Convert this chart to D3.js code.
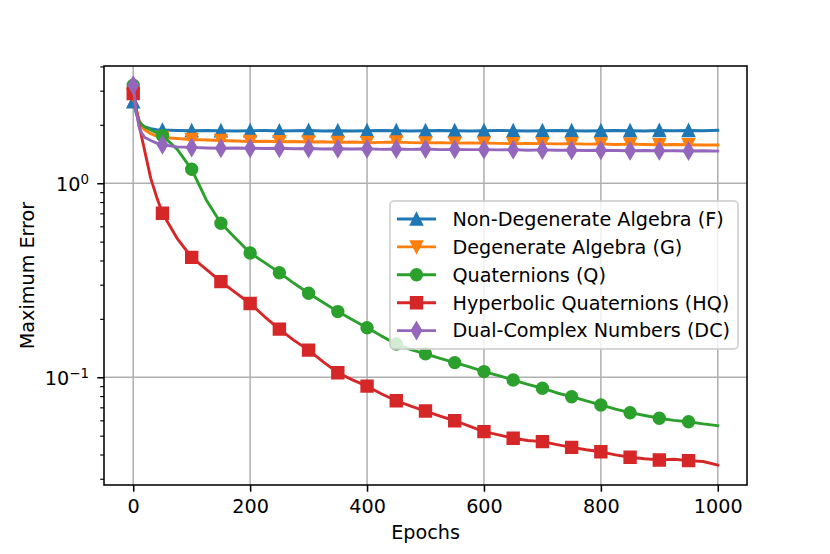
<!DOCTYPE html>
<html><head><meta charset="utf-8">
<script src="https://cdn.jsdelivr.net/npm/d3@7"></script>
<style>
body{margin:0;background:#fff}
text{font-family:"DejaVu Sans",sans-serif;fill:#000}
</style>
</head><body>
<svg id="chart" width="830" height="554"></svg>
<script>
// ---------- data ----------
const epochs = [0,5,10,15,20,30,40,50,75,100,125,150,175,200,225,250,275,300,325,350,375,400,425,450,475,500,525,550,575,600,625,650,675,700,725,750,775,800,825,850,875,900,925,950,975,1000];
const seriesNames = ["Non-Degenerate Algebra (F)","Degenerate Algebra (G)","Quaternions (Q)","Hyperbolic Quaternions (HQ)","Dual-Complex Numbers (DC)"];
const valuesF = [2.63,2.3,2.1,2.0,1.95,1.91,1.89,1.88,1.87,1.865,1.87,1.865,1.86,1.865,1.87,1.86,1.865,1.87,1.86,1.865,1.86,1.865,1.87,1.865,1.86,1.865,1.87,1.865,1.86,1.865,1.87,1.865,1.86,1.865,1.87,1.865,1.86,1.865,1.87,1.865,1.86,1.87,1.865,1.87,1.865,1.875];
const valuesG = [2.85,2.4,2.1,1.95,1.88,1.8,1.75,1.72,1.70,1.68,1.67,1.66,1.65,1.64,1.645,1.635,1.64,1.63,1.635,1.625,1.63,1.62,1.625,1.63,1.62,1.615,1.62,1.61,1.615,1.61,1.605,1.60,1.605,1.60,1.595,1.60,1.59,1.595,1.585,1.59,1.585,1.58,1.585,1.58,1.575,1.575];
const valuesQ = [3.2,2.4,2.07,2.0,1.95,1.88,1.82,1.76,1.5,1.18,0.82,0.622,0.52,0.437,0.39,0.346,0.305,0.271,0.243,0.218,0.198,0.180,0.163,0.1485,0.139,0.132,0.125,0.119,0.113,0.107,0.102,0.0968,0.092,0.0878,0.083,0.0794,0.0755,0.072,0.0685,0.0657,0.0635,0.0615,0.060,0.059,0.0575,0.0563];
const valuesHQ = [2.9,2.45,2.0,1.7,1.45,1.06,0.85,0.70,0.52,0.415,0.36,0.311,0.273,0.240,0.205,0.177,0.155,0.138,0.12,0.1056,0.097,0.090,0.082,0.0757,0.071,0.067,0.063,0.0597,0.056,0.0525,0.0505,0.0485,0.0472,0.0466,0.045,0.0435,0.0423,0.0413,0.0398,0.0387,0.038,0.0375,0.0378,0.0372,0.0368,0.0353];
const valuesDC = [3.2,2.35,1.95,1.8,1.72,1.66,1.61,1.58,1.54,1.53,1.52,1.515,1.52,1.515,1.51,1.515,1.505,1.51,1.50,1.505,1.50,1.505,1.495,1.50,1.495,1.50,1.49,1.495,1.49,1.49,1.485,1.49,1.48,1.485,1.48,1.48,1.475,1.48,1.475,1.47,1.475,1.47,1.47,1.465,1.47,1.465];
const markerEpochs = [0,50,100,150,200,250,300,350,400,450,500,550,600,650,700,750,800,850,900,950];
const xTicks = [0,200,400,600,800,1000];
const yMajorTicks = [0.1,1];
const yMajorLabels = [["10","\u22121"],["10","0"]];
const yMinorTicks = [0.03,0.04,0.05,0.06,0.07,0.08,0.09,0.2,0.3,0.4,0.5,0.6,0.7,0.8,0.9,2,3,4];
const xLabel = "Epochs";
const yLabel = "Maximum Error";

// ---------- layout ----------
const L=104, R=747, T=66, B=485;
const colors = ["#1f77b4","#ff7f0e","#2ca02c","#d62728","#9467bd"];
const shapes = ["triUp","triDown","circle","square","thinDiamond"];
const allValues = [valuesF,valuesG,valuesQ,valuesHQ,valuesDC];
const series = seriesNames.map((n,i)=>({name:n,color:colors[i],shape:shapes[i],
  pts:epochs.map((e,j)=>({e:e,v:allValues[i][j]}))}));

const svg = d3.select("#chart");
const x = d3.scaleLinear().domain([-50,1050]).range([L,R]);
const y = d3.scaleLog().domain([0.02785,4.02]).range([B,T]);

const MS = 11.5;
function markerPath(shape){
  const h = MS/2;
  if(shape==="triUp") return `M0,${-h}L${-h},${h}L${h},${h}Z`;
  if(shape==="triDown") return `M0,${h}L${-h},${-h}L${h},${-h}Z`;
  if(shape==="square") return `M${-h},${-h}H${h}V${h}H${-h}Z`;
  if(shape==="thinDiamond"){const dv=MS*Math.SQRT1_2, dh=0.6*dv; return `M0,${-dv}L${dh},0L0,${dv}L${-dh},0Z`;}
  const r=h; return `M${r},0A${r},${r},0,1,1,${-r},0A${r},${r},0,1,1,${r},0Z`;
}

// clip
svg.append("defs").append("clipPath").attr("id","clip")
  .append("rect").attr("x",L).attr("y",T).attr("width",R-L).attr("height",B-T);

// grid
const grid = svg.append("g").attr("stroke","#b0b0b0").attr("stroke-width",1.54);
grid.selectAll("line.gx").data(xTicks).join("line")
  .attr("x1",d=>x(d)).attr("x2",d=>x(d)).attr("y1",T).attr("y2",B);
grid.selectAll("line.gy").data(yMajorTicks).join("line")
  .attr("y1",d=>y(d)).attr("y2",d=>y(d)).attr("x1",L).attr("x2",R);

// axes (ticks)
const xAxis = svg.append("g").attr("transform",`translate(0,${B})`)
  .call(d3.axisBottom(x).tickValues(xTicks).tickSize(6.7).tickPadding(6).tickFormat(d3.format("d")));
xAxis.select(".domain").remove();
xAxis.selectAll(".tick line").attr("stroke-width",1.54);
xAxis.selectAll(".tick text").attr("font-size",19.2).attr("dy",null).attr("y",28).attr("fill","#000");

const yAxis = svg.append("g").attr("transform",`translate(${L},0)`)
  .call(d3.axisLeft(y).tickValues(yMajorTicks).tickSize(6.7).tickFormat(""));
yAxis.select(".domain").remove();
yAxis.selectAll(".tick line").attr("stroke-width",1.54);
yAxis.selectAll(".tick").each(function(d,i){
  const t = d3.select(this).append("text").attr("x",-15).attr("y",7.2)
    .attr("text-anchor","end").attr("font-size",19.2).attr("fill","#000");
  t.append("tspan").text(yMajorLabels[i][0]);
  t.append("tspan").attr("dy",-7.4).attr("font-size",13.4).text(yMajorLabels[i][1]);
});
const yMinor = svg.append("g").attr("transform",`translate(${L},0)`)
  .call(d3.axisLeft(y).tickValues(yMinorTicks).tickSize(3.8).tickFormat(""));
yMinor.select(".domain").remove();
yMinor.selectAll(".tick line").attr("stroke-width",1.15);

// lines + markers
const line = d3.line().x(d=>x(d.e)).y(d=>y(d.v));
const plot = svg.append("g").attr("clip-path","url(#clip)");
series.forEach(s=>{
  const g = plot.append("g");
  g.append("path").datum(s.pts).attr("d",line).attr("fill","none")
    .attr("stroke",s.color).attr("stroke-width",2.9).attr("stroke-linejoin","round").attr("stroke-linecap","square");
  g.selectAll("path.m").data(s.pts.filter(p=>markerEpochs.includes(p.e))).join("path")
    .attr("class","m").attr("d",markerPath(s.shape))
    .attr("transform",d=>`translate(${x(d.e)},${y(d.v)})`)
    .attr("fill",s.color).attr("stroke",s.color).attr("stroke-width",1.9);
});

// spines
svg.append("rect").attr("x",L).attr("y",T).attr("width",R-L).attr("height",B-T)
  .attr("fill","none").attr("stroke","#000").attr("stroke-width",1.54);

// axis labels
svg.append("text").attr("x",(L+R)/2).attr("y",539).attr("text-anchor","middle")
  .attr("font-size",19.2).text(xLabel);
svg.append("text").attr("transform",`translate(34,${(T+B)/2}) rotate(-90)`)
  .attr("text-anchor","middle").attr("font-size",19.2).text(yLabel);

// legend
const lg = {x:390,y:201,w:348,h:148,row0:219,pitch:27.9,hx0:397,hx1:436,tx:452.5};
const leg = svg.append("g");
leg.append("rect").attr("x",lg.x).attr("y",lg.y).attr("width",lg.w).attr("height",lg.h)
  .attr("rx",4).attr("ry",4).attr("fill","#fff").attr("fill-opacity",0.8)
  .attr("stroke","#cccccc").attr("stroke-opacity",0.8).attr("stroke-width",1.9);
series.forEach((s,i)=>{
  const cy = lg.row0 + i*lg.pitch;
  leg.append("line").attr("x1",lg.hx0).attr("x2",lg.hx1).attr("y1",cy).attr("y2",cy)
    .attr("stroke",s.color).attr("stroke-width",2.9);
  leg.append("path").attr("d",markerPath(s.shape))
    .attr("transform",`translate(${(lg.hx0+lg.hx1)/2},${cy})`)
    .attr("fill",s.color).attr("stroke",s.color).attr("stroke-width",1.9);
  leg.append("text").attr("x",lg.tx).attr("y",cy+6.8).attr("font-size",19.2).text(s.name);
});
</script>
</body></html>
